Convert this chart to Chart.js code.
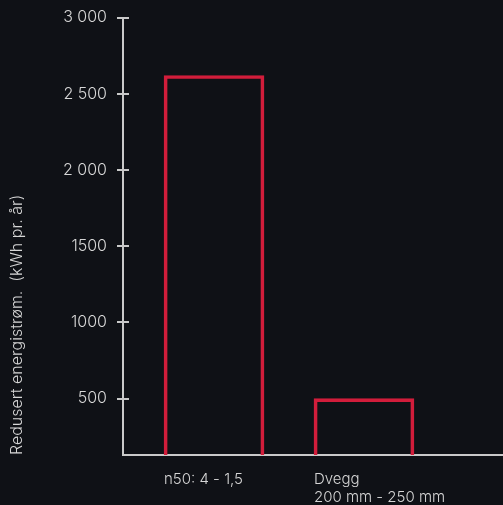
<!DOCTYPE html>
<html>
<head>
<meta charset="utf-8">
<script src="https://cdn.jsdelivr.net/npm/chart.js@4/dist/chart.umd.min.js"></script>
<style>
  html, body { margin: 0; padding: 0; background: #0f1116; }
  #wrap { width: 503px; height: 505px; }
</style>
</head>
<body>
<div id="wrap"><canvas id="chart"></canvas></div>
<script>
const categories = [['n50: 4 - 1,5'], ['Dvegg', '200 mm - 250 mm']];
const values = [2620, 500];
const tickValues = [500, 1000, 1500, 2000, 2500, 3000];
const tickLabels = ['500', '1000', '1500', '2 000', '2 500', '3 000'];

const axisColor = '#c9c9c9';
const textColor = '#d6d6d6';
const barColor = '#d21d3b';

// short tick marks that cross the y axis
const crossTicks = {
  id: 'crossTicks',
  afterDraw(chart) {
    const ctx = chart.ctx;
    const y = chart.scales.y;
    const x0 = chart.chartArea.left;
    ctx.save();
    ctx.strokeStyle = axisColor;
    ctx.lineWidth = 2;
    y.ticks.forEach(t => {
      const py = Math.round(y.getPixelForValue(t.value));
      ctx.beginPath();
      ctx.moveTo(x0 - 6, py);
      ctx.lineTo(x0 + 6, py);
      ctx.stroke();
    });
    ctx.restore();
  }
};

new Chart(document.getElementById('chart'), {
  type: 'bar',
  data: {
    datasets: [{
      data: values.map((v, i) => ({ x: i, y: v })),
      backgroundColor: 'rgba(0,0,0,0)',
      borderColor: barColor,
      borderWidth: 3,
      barThickness: 100,
    }],
  },
  options: {
    responsive: true,
    maintainAspectRatio: false,
    animation: false,
    layout: { padding: { top: 13, right: 0, left: 0, bottom: 0 } },
    plugins: { legend: { display: false }, tooltip: { enabled: false } },
    scales: {
      x: {
        type: 'linear',
        offset: false,
        min: -0.607,
        max: 1.927,
        afterBuildTicks: s => { s.ticks = categories.map((c, i) => ({ value: i })); },
        afterFit: s => { s.height = 50; },
        grid: { display: false },
        border: { color: axisColor, width: 2 },
        ticks: {
          align: 'start',
          labelOffset: -50,
          padding: 7,
          color: textColor,
          font: { family: 'Inter', size: 15, weight: 300, lineHeight: 1.2 },
          callback: (v, i) => categories[i],
        },
      },
      y: {
        min: 130,
        max: 3000,
        afterBuildTicks: s => { s.ticks = tickValues.map(v => ({ value: v })); },
        afterFit: s => { s.width = 123; },
        grid: { display: false },
        border: { color: axisColor, width: 2 },
        ticks: {
          padding: 8,
          color: textColor,
          font: { family: 'Inter', size: 16, weight: 300 },
          callback: (v, i) => tickLabels[i],
        },
        title: {
          display: true,
          text: 'Redusert energistrøm.  (kWh pr. år)',
          align: 'start',
          color: textColor,
          font: { family: 'Inter', size: 16, weight: 300 },
          padding: { top: 8, bottom: 0 },
        },
      },
    },
  },
  plugins: [crossTicks],
});
</script>
</body>
</html>
